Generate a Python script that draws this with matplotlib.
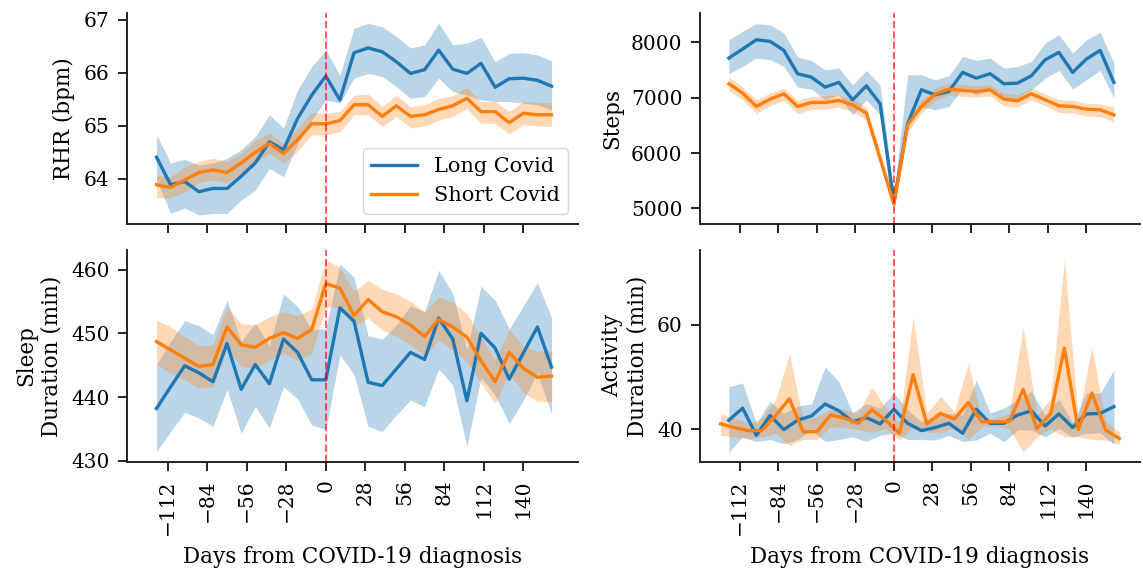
import numpy as np
import matplotlib
matplotlib.use("Agg")
import matplotlib.pyplot as plt

plt.rcParams["font.family"] = "DejaVu Serif"
plt.rcParams["font.size"] = 15
plt.rcParams["axes.labelsize"] = 15.5
plt.rcParams["xtick.labelsize"] = 14.5
plt.rcParams["ytick.labelsize"] = 14.5
plt.rcParams["axes.unicode_minus"] = True

# day bins (10-day windows around diagnosis)
days = np.arange(-120, 161, 10)
days_act_short = np.arange(-126, 165, 10)

# RHR (bpm)
rhr_long = [64.41, 63.89, 63.95, 63.76, 63.82, 63.82, 64.05, 64.30, 64.70, 64.55,
            65.14, 65.58, 65.94, 65.49, 66.38, 66.47, 66.40, 66.21, 65.99, 66.06,
            66.43, 66.07, 65.99, 66.18, 65.73, 65.89, 65.90, 65.86, 65.75]
rhr_long_lo = [63.98, 63.35, 63.45, 63.32, 63.35, 63.35, 63.60, 63.79, 64.20, 64.04,
               64.67, 65.11, 65.49, 65.43, 65.90, 65.99, 65.93, 65.74, 65.52, 65.55,
               65.90, 65.65, 65.58, 65.49, 65.46, 65.46, 65.43, 65.40, 65.30]
rhr_long_hi = [64.83, 64.30, 64.37, 64.26, 64.30, 64.39, 64.55, 64.80, 65.21, 64.96,
               65.68, 66.12, 66.43, 65.96, 66.84, 66.94, 66.87, 66.69, 66.47, 66.53,
               66.94, 66.53, 66.56, 66.67, 66.21, 66.37, 66.38, 66.34, 66.23]
rhr_short = [63.89, 63.84, 63.98, 64.12, 64.17, 64.12, 64.30, 64.50, 64.67, 64.48,
             64.74, 65.04, 65.04, 65.10, 65.40, 65.40, 65.18, 65.38, 65.18, 65.21,
             65.31, 65.38, 65.52, 65.27, 65.27, 65.06, 65.24, 65.21, 65.21]
rhr_short_lo = [63.65, 63.64, 63.76, 63.93, 63.98, 63.93, 64.11, 64.30, 64.48, 64.30,
                64.52, 64.83, 64.83, 64.89, 65.21, 65.21, 64.99, 65.18, 64.96, 65.00,
                65.11, 65.18, 65.33, 65.05, 65.05, 64.85, 65.02, 65.00, 64.99]
rhr_short_hi = [64.08, 64.04, 64.23, 64.33, 64.39, 64.33, 64.48, 64.74, 64.86, 64.67,
                64.96, 65.25, 65.24, 65.27, 65.58, 65.60, 65.36, 65.58, 65.36, 65.40,
                65.52, 65.57, 65.73, 65.46, 65.46, 65.27, 65.46, 65.44, 65.44]

# Steps
steps_long = [7716, 7879, 8048, 8018, 7855, 7433, 7372, 7191, 7276, 6962,
              7215, 6890, 5103, 6527, 7143, 7052, 7113, 7457, 7354, 7433,
              7252, 7264, 7396, 7686, 7819, 7457, 7698, 7855, 7276]
steps_long_lo = [7433, 7565, 7716, 7686, 7565, 7191, 7155, 6962, 7052, 6690,
                 6962, 6690, 4970, 6479, 6841, 6781, 6841, 7173, 7052, 7143,
                 6962, 6992, 7143, 7354, 7493, 7155, 7324, 7493, 6992]
steps_long_hi = [8048, 8199, 8338, 8320, 8169, 7734, 7674, 7505, 7535, 7232,
                 7493, 7232, 5272, 7415, 7415, 7324, 7396, 7747, 7674, 7716,
                 7535, 7565, 7656, 7988, 8139, 7807, 8048, 8181, 7626]
steps_short = [7252, 7083, 6841, 6974, 7071, 6841, 6914, 6914, 6950, 6871,
               6721, 5900, 5079, 6509, 6841, 7065, 7155, 7131, 7113, 7143,
               6974, 6944, 7071, 6962, 6853, 6841, 6793, 6781, 6690]
steps_short_lo = [7131, 6962, 6721, 6853, 6950, 6709, 6793, 6793, 6829, 6751,
                  6588, 5785, 4958, 6389, 6721, 6950, 7052, 7022, 7010, 7034,
                  6853, 6829, 6962, 6853, 6733, 6721, 6672, 6660, 6570]
steps_short_hi = [7372, 7191, 6962, 7083, 7173, 6950, 7022, 7034, 7052, 6974,
                  6829, 6027, 5212, 6612, 6950, 7173, 7264, 7234, 7215, 7234,
                  7083, 7052, 7173, 7071, 6962, 6950, 6902, 6890, 6829]

# Sleep duration (min)
sleep_long = [438.2, 441.6, 444.9, 443.8, 442.4, 448.4, 441.2, 445.1, 442.1, 449.1,
              447.0, 442.7, 442.7, 454.0, 451.9, 442.3, 441.8, 444.4, 447.0, 445.9,
              452.4, 449.1, 439.4, 450.0, 447.7, 442.8, 446.9, 451.0, 444.7]
sleep_long_lo = [431.4, 434.6, 437.6, 436.7, 435.4, 441.2, 434.3, 438.5, 435.1, 441.6,
                 439.7, 435.6, 434.9, 446.6, 443.5, 435.4, 434.6, 437.2, 439.5, 438.5,
                 444.4, 441.9, 432.2, 443.1, 440.3, 435.8, 439.5, 443.8, 437.3]
sleep_long_hi = [445.1, 448.7, 452.0, 451.2, 449.8, 455.2, 448.7, 451.6, 448.0, 456.2,
                 454.2, 450.6, 450.7, 460.9, 458.8, 449.6, 449.1, 451.3, 454.3, 453.4,
                 459.9, 456.2, 447.4, 457.4, 455.2, 450.7, 454.3, 458.0, 452.4]
sleep_short = [448.7, 447.4, 446.1, 444.8, 445.1, 451.0, 448.2, 447.8, 449.2, 450.1,
               449.2, 450.6, 457.8, 457.1, 452.8, 455.3, 453.4, 452.6, 451.3, 449.5,
               452.2, 451.0, 449.4, 445.7, 442.4, 447.0, 444.5, 443.1, 443.3]
sleep_short_lo = [445.2, 443.7, 442.7, 441.4, 441.6, 447.7, 444.8, 444.5, 445.8, 446.9,
                  445.8, 446.9, 454.2, 454.0, 451.1, 452.4, 450.5, 449.5, 448.2, 446.4,
                  449.0, 447.4, 445.6, 442.2, 439.0, 443.7, 440.7, 439.3, 439.3]
sleep_short_hi = [452.1, 451.0, 449.5, 448.0, 448.2, 454.2, 451.5, 451.3, 452.6, 453.4,
                  452.8, 453.8, 461.5, 460.4, 456.6, 458.3, 456.9, 456.2, 455.0, 453.4,
                  455.7, 454.9, 453.1, 449.4, 445.8, 450.6, 448.0, 447.2, 447.2]

# Activity duration (min)
act_long = [41.7, 44.0, 38.8, 42.6, 39.9, 41.7, 42.5, 44.8, 43.5, 41.4,
            42.2, 41.0, 43.8, 41.1, 39.7, 40.3, 41.1, 39.2, 43.8, 41.1,
            41.1, 42.7, 43.5, 40.6, 42.9, 40.3, 42.9, 43.0, 44.3]
act_long_lo = [35.6, 38.5, 37.6, 38.0, 37.2, 38.0, 39.8, 37.6, 38.0, 38.5,
               37.6, 38.8, 39.2, 38.0, 38.0, 37.9, 38.8, 37.6, 37.9, 39.2,
               37.6, 39.8, 39.8, 38.5, 40.1, 38.5, 39.2, 39.3, 37.1]
act_long_hi = [48.1, 48.8, 41.1, 45.3, 43.0, 44.4, 44.8, 51.9, 49.1, 43.1,
               44.9, 44.0, 46.9, 43.7, 41.4, 42.7, 43.0, 42.7, 49.4, 43.1,
               44.0, 45.6, 47.2, 42.7, 45.7, 41.2, 46.9, 46.9, 51.3]
act_short = [41.0, 40.3, 39.7, 39.7, 42.6, 45.8, 39.5, 39.5, 42.7, 42.1,
             41.1, 43.7, 41.7, 39.2, 50.4, 41.0, 43.0, 41.9, 45.1, 41.4,
             41.4, 41.4, 47.6, 40.1, 42.9, 55.5, 39.9, 46.9, 39.8, 38.2]
act_short_lo = [38.8, 38.5, 38.2, 38.5, 39.2, 36.9, 38.0, 38.0, 40.4, 40.4,
                39.9, 39.3, 40.1, 37.9, 40.4, 39.5, 39.2, 40.4, 38.0, 40.4,
                40.6, 40.1, 35.6, 38.5, 40.1, 38.5, 38.5, 38.0, 37.9, 37.1]
act_short_hi = [42.9, 42.1, 41.1, 42.1, 45.6, 54.4, 41.7, 42.4, 43.7, 43.7,
                43.0, 48.1, 44.0, 41.0, 61.5, 43.0, 46.3, 43.3, 52.6, 41.7,
                42.1, 43.0, 59.6, 42.7, 45.7, 72.4, 42.1, 55.7, 41.4, 39.5]

fig = plt.figure(figsize=(11.43, 5.78), dpi=100)
ax_rhr = fig.add_axes([0.111, 0.6125, 0.395, 0.365])
ax_steps = fig.add_axes([0.6124, 0.6125, 0.385, 0.365], sharex=ax_rhr)
ax_sleep = fig.add_axes([0.111, 0.2007, 0.395, 0.367], sharex=ax_rhr)
ax_act = fig.add_axes([0.6124, 0.2007, 0.385, 0.367], sharex=ax_rhr)

panels = [
    (ax_rhr, "RHR (bpm)", days, rhr_long, rhr_long_lo, rhr_long_hi,
     days, rhr_short, rhr_short_lo, rhr_short_hi, [64, 65, 66, 67], (63.15, 67.13)),
    (ax_steps, "Steps", days, steps_long, steps_long_lo, steps_long_hi,
     days, steps_short, steps_short_lo, steps_short_hi, [5000, 6000, 7000, 8000], (4717, 8531)),
    (ax_sleep, "Sleep\nDuration (min)", days, sleep_long, sleep_long_lo, sleep_long_hi,
     days, sleep_short, sleep_short_lo, sleep_short_hi, [430, 440, 450, 460], (429.8, 463.1)),
    (ax_act, "Activity\nDuration (min)", days, act_long, act_long_lo, act_long_hi,
     days_act_short, act_short, act_short_lo, act_short_hi, [40, 60], (33.7, 74.3)),
]

for (ax, ylabel, x1, m1, lo1, hi1, x2, m2, lo2, hi2, yticks, ylim) in panels:
    ax.fill_between(x1, lo1, hi1, color="C0", alpha=0.3, linewidth=0)
    ax.plot(x1, m1, color="C0", lw=2.4, label="Long Covid")
    ax.fill_between(x2, lo2, hi2, color="C1", alpha=0.3, linewidth=0)
    ax.plot(x2, m2, color="C1", lw=2.4, label="Short Covid")
    ax.axvline(0, color="red", alpha=0.65, linestyle="--", lw=1.4)
    ax.set_ylabel(ylabel, labelpad=6)
    ax.set_yticks(yticks)
    ax.set_ylim(*ylim)
    for side in ["top", "right"]:
        ax.spines[side].set_visible(False)
    for side in ["left", "bottom"]:
        ax.spines[side].set_linewidth(1.4)
        ax.spines[side].set_color("#222222")
    ax.tick_params(length=6.5, width=1.4, color="#222222", pad=6)

ax_rhr.set_xlim(-141, 179)
ax_rhr.set_xticks(np.arange(-112, 141, 28))
for ax in [ax_rhr, ax_steps]:
    ax.tick_params(labelbottom=False)
for ax in [ax_sleep, ax_act]:
    ax.tick_params(axis="x", labelrotation=90)
    ax.set_xlabel("Days from COVID-19 diagnosis", labelpad=8)

ax_rhr.legend(loc="lower right", fontsize=15, framealpha=0.8, handlelength=2.2)

fig.savefig("out.png", dpi=100)
